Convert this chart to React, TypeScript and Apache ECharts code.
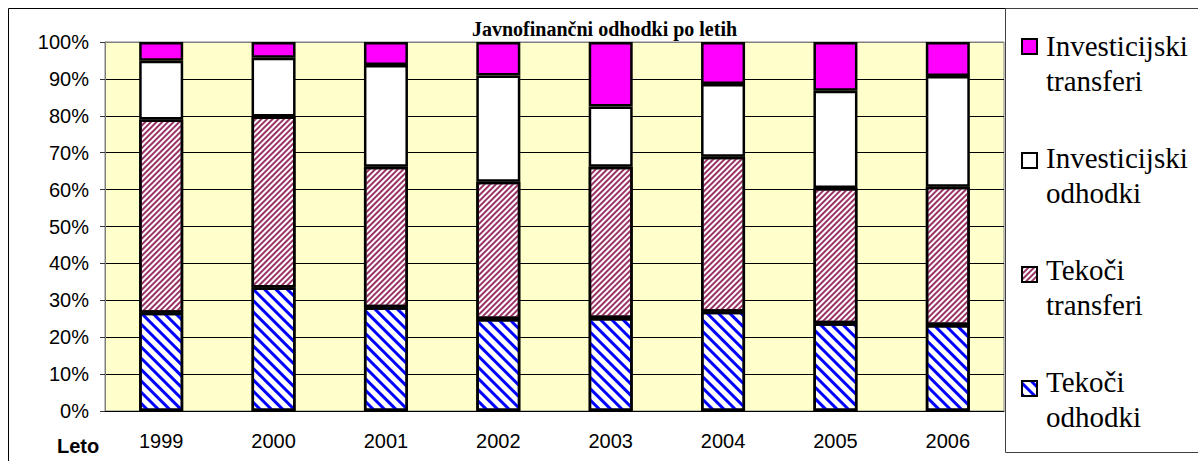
import React, { useEffect, useRef } from "react";
import * as echarts from "echarts";

const years = ["1999", "2000", "2001", "2002", "2003", "2004", "2005", "2006"];
const tekociOdhodki = [26.6, 33.5, 28.1, 24.9, 25.2, 26.9, 23.8, 23.3];
const tekociTransferi = [52.4, 46.3, 38.1, 37.2, 41.0, 42.0, 36.6, 37.5];
const investicijskiOdhodki = [15.9, 15.9, 27.6, 28.8, 16.3, 19.7, 26.4, 30.0];
const investicijskiTransferi = [5.1, 4.3, 6.2, 9.1, 17.5, 11.4, 13.2, 9.2];
const legendOrder = [
  "Investicijski transferi",
  "Investicijski odhodki",
  "Tekoči transferi",
  "Tekoči odhodki",
];
const title = "Javnofinančni odhodki po letih";
const xAxisName = "Leto";

export default function App() {
  const ref = useRef<HTMLDivElement>(null);
  useEffect(() => {
    if (!ref.current) return;
    const chart = echarts.init(ref.current, undefined, { renderer: "svg" });
    const border = { borderColor: "#000", borderWidth: 2.5 };
    const splitColors = Array.from({ length: 11 }, (_, i) => (i === 10 ? "#808080" : "#000"));
    const serif = "'Liberation Serif', 'Times New Roman', serif";
    const sans = "Liberation Sans";
    const legendTexts: any[] = [];
    legendOrder.forEach((name, i) => {
      name.split(" ").forEach((word, j) => {
        legendTexts.push({
          type: "text",
          x: 1046,
          y: 46 + i * 112 + j * 35,
          silent: true,
          style: {
            text: word,
            fontFamily: serif,
            fontSize: 29,
            fill: "#000",
            verticalAlign: "middle",
          },
        });
      });
    });
    chart.setOption({
      animation: false,
      backgroundColor: "#fff",
      title: {
        text: title,
        left: 472,
        top: 19,
        padding: 0,
        textStyle: { fontFamily: serif, fontWeight: "bold", fontSize: 20, color: "#000" },
      },
      grid: {
        left: 105,
        right: 194,
        top: 42,
        bottom: 50,
        show: true,
        backgroundColor: "#FFFFCC",
        borderColor: "#808080",
        borderWidth: 1,
      },
      legend: {
        data: legendOrder,
        orient: "vertical",
        left: 1021,
        top: 38,
        padding: 0,
        itemGap: 97,
        itemWidth: 15,
        itemHeight: 15,
        icon: "rect",
        selectedMode: false,
        formatter: () => "",
        itemStyle: { borderColor: "#000", borderWidth: 2 },
        textStyle: { fontSize: 1 },
      },
      xAxis: {
        type: "category",
        data: years,
        axisLine: { lineStyle: { color: "#000", width: 1 } },
        axisTick: { length: 6, lineStyle: { color: "#333" } },
        axisLabel: { margin: 20, fontFamily: sans, fontSize: 20, color: "#000" },
      },
      yAxis: {
        type: "value",
        min: 0,
        max: 100,
        interval: 10,
        axisLine: { show: true, lineStyle: { color: "#808080" } },
        axisTick: { show: true, length: 5, lineStyle: { color: "#333" } },
        axisLabel: {
          margin: 16,
          fontFamily: sans,
          fontSize: 20,
          color: "#000",
          formatter: "{value}%",
        },
        splitLine: { show: true, lineStyle: { color: splitColors, width: 1 } },
      },
      series: [
        {
          name: "Tekoči odhodki",
          type: "bar",
          stack: "s",
          barWidth: 44,
          data: tekociOdhodki,
          itemStyle: {
            color: "#fff",
            ...border,
            decal: {
              symbol: "rect",
              symbolSize: 1,
              color: "#0000FF",
              dashArrayX: [1, 0],
              dashArrayY: [3, 5],
              rotation: Math.PI / 4,
            },
          },
        },
        {
          name: "Tekoči transferi",
          type: "bar",
          stack: "s",
          barWidth: 44,
          data: tekociTransferi,
          itemStyle: {
            color: "#fff",
            ...border,
            decal: {
              symbol: "rect",
              symbolSize: 1,
              color: "#993366",
              dashArrayX: [1, 0],
              dashArrayY: [2, 1.5],
              rotation: -Math.PI / 4,
            },
          },
        },
        {
          name: "Investicijski odhodki",
          type: "bar",
          stack: "s",
          barWidth: 44,
          data: investicijskiOdhodki,
          itemStyle: { color: "#fff", ...border },
        },
        {
          name: "Investicijski transferi",
          type: "bar",
          stack: "s",
          barWidth: 44,
          data: investicijskiTransferi,
          itemStyle: { color: "#FF00FF", ...border },
        },
      ],
      graphic: [
        {
          type: "rect",
          shape: { x: 8.5, y: 8.5, width: 1300, height: 500 },
          style: { fill: "none", stroke: "#000", lineWidth: 1 },
          silent: true,
          z: 100,
        },
        {
          type: "rect",
          shape: { x: 1005.5, y: 8.5, width: 300, height: 444 },
          style: { fill: "none", stroke: "#404040", lineWidth: 1 },
          silent: true,
          z: 100,
        },
        ...legendTexts,
        {
          type: "text",
          x: 57,
          y: 446,
          style: {
            text: xAxisName,
            fontFamily: sans,
            fontWeight: "bold",
            fontSize: 20,
            fill: "#000",
            verticalAlign: "middle",
          },
        },
      ],
    });
    return () => chart.dispose();
  }, []);
  return (
    <div
      ref={ref}
      style={{ position: "fixed", left: 0, top: 0, width: 1198, height: 461 }}
    />
  );
}
